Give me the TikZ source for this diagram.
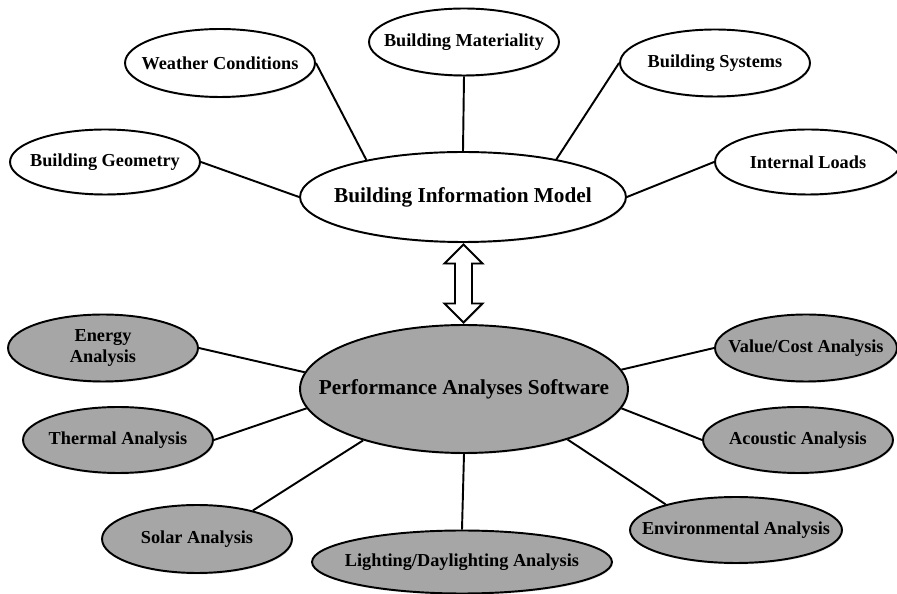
\documentclass[tikz,border=0pt]{standalone}
\usepackage{fontspec}
\setmainfont{Liberation Serif}
\usetikzlibrary{shapes,shadows,calc}
\definecolor{panelgrey}{RGB}{166,166,166}

\tikzset{
  topic/.style={draw, ellipse, line width=1.1pt, fill=white, inner sep=0pt,
    minimum width=3.8cm, minimum height=1.32cm,
    drop shadow={opacity=0.25, shadow xshift=0.5pt, shadow yshift=-0.8pt}},
  tool/.style={topic, fill=panelgrey},
  txt/.style={font=\fontsize{10.4}{12.5}\selectfont\bfseries, inner sep=0pt, align=center},
  hubtxt/.style={font=\fontsize{12.1}{14}\selectfont\bfseries, inner sep=0pt},
  link/.style={line width=1.1pt}
}

\begin{document}
\begin{tikzpicture}[x=0.02cm, y=-0.02cm]
    \useasboundingbox (0,0) rectangle (897,594);

    \node[topic, minimum width=6.52cm, minimum height=1.8cm, label={[hubtxt]center:Building Information Model}] (bim) at (463,197) {};
    \node[topic, minimum height=1.3cm, label={[txt]center:Building Geometry}] (geo) at (105,162) {};
    \node[topic, minimum height=1.36cm, label={[txt]center:Weather Conditions}] (wea) at (220,63) {};
    \node[topic, minimum height=1.34cm, label={[txt]center:Building Materiality}] (mat) at (464,42) {};
    \node[topic, minimum height=1.34cm, label={[txt]center:Building Systems}] (sys) at (715,63) {};
    \node[topic, minimum width=3.72cm, minimum height=1.3cm, label={[txt]center:Internal Loads}] (loads) at (808,162) {};

    \node[tool, minimum width=6.56cm, minimum height=2.56cm, label={[hubtxt]center:Performance Analyses Software}] (pas) at (464,389) {};
    \node[tool, minimum height=1.34cm, label={[txt]center:{Energy\\Analysis}}] (energy) at (103,348) {};
    \node[tool, label={[txt]center:Thermal Analysis}] (thermal) at (118,440) {};
    \node[tool, minimum height=1.36cm, label={[txt]center:Solar Analysis}] (solar) at (197,539) {};
    \node[tool, minimum width=6cm, minimum height=1.26cm, label={[txt]center:Lighting/Daylighting Analysis}] (light) at (462,562) {};
    \node[tool, minimum width=4.24cm, label={[txt]center:Environmental Analysis}] (env) at (736,530) {};
    \node[tool, label={[txt]center:Acoustic Analysis}] (acou) at (798,440) {};
    \node[tool, minimum width=3.64cm, minimum height=1.34cm, label={[txt]center:Value/Cost Analysis}] (value) at (806,348) {};

    \draw[link] (geo.east) -- (bim.west);
    \draw[link] (wea.east) -- (bim.159);
    \draw[link] (mat.south) -- (bim.north);
    \draw[link] (sys.west) -- (bim.22);
    \draw[link] (loads.west) -- (bim.east);

    \draw[link] (energy.east) -- (pas.174);
    \draw[link] (thermal.east) -- (pas.187);
    \draw[link] (solar.27) -- (pas.207);
    \draw[link] (light.north) -- (pas.south);
    \draw[link] (env.160) -- (pas.-26);
    \draw[link] (acou.west) -- (pas.-7);
    \draw[link] (value.west) -- (pas.7);

    \coordinate (mid) at ($(bim.south)!0.5!(pas.north)$);
    \begin{scope}[shift={(mid)}]
        \draw[line width=1.1pt, fill=white, drop shadow={opacity=0.25, shadow xshift=0.5pt, shadow yshift=-0.8pt}]
            (0,-39) -- (19,-20) -- (8.5,-20) -- (8.5,20) -- (19,20) -- (0,39)
            -- (-19,20) -- (-8.5,20) -- (-8.5,-20) -- (-19,-20) -- cycle;
    \end{scope}
\end{tikzpicture}
\end{document}
